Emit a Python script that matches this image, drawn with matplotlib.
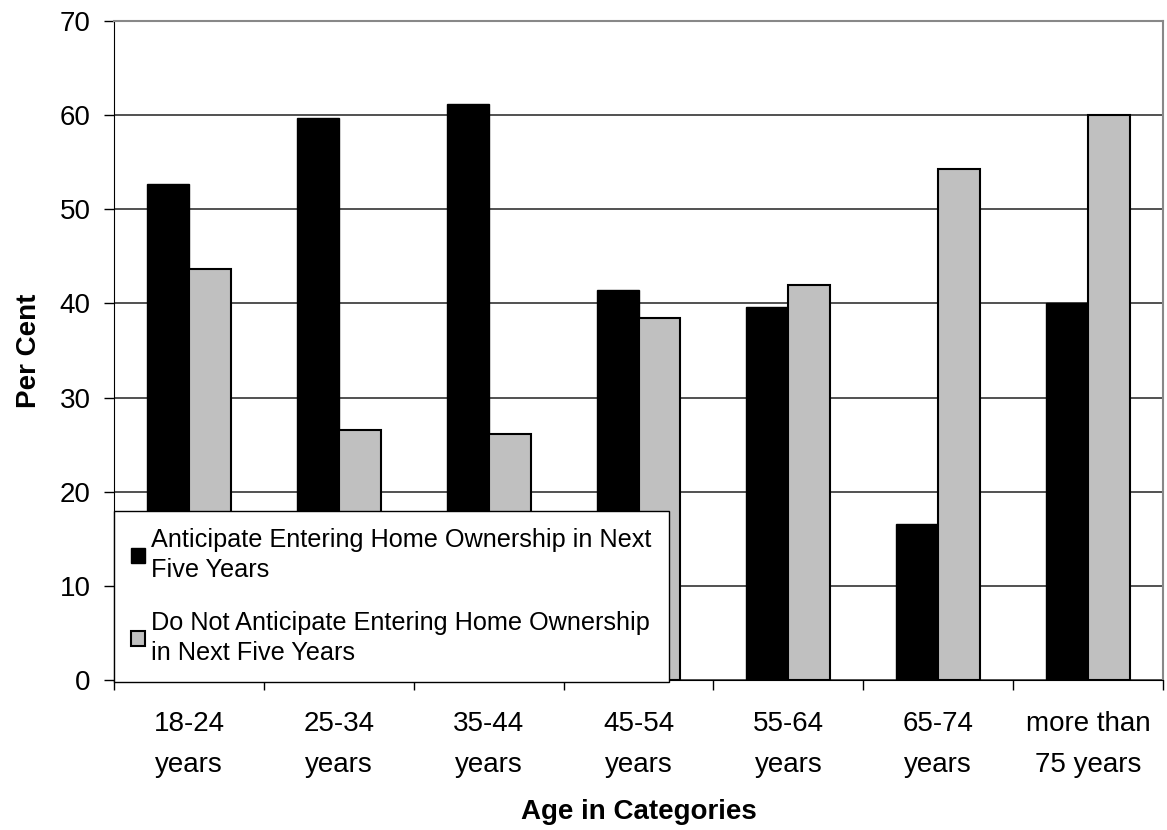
import matplotlib.pyplot as plt
import numpy as np

plt.rcParams['font.family'] = ['Liberation Sans', 'DejaVu Sans']

# categories and values (per cent)
categories = ['18-24\nyears', '25-34\nyears', '35-44\nyears', '45-54\nyears',
              '55-64\nyears', '65-74\nyears', 'more than\n75 years']
anticipate = [52.7, 59.7, 61.2, 41.4, 39.6, 16.6, 40.0]
not_anticipate = [43.7, 26.6, 26.1, 38.5, 42.0, 54.3, 60.0]
series_names = ['Anticipate Entering Home Ownership in Next\nFive Years',
                'Do Not Anticipate Entering Home Ownership\nin Next Five Years']

fig = plt.figure(figsize=(11.67, 8.3), dpi=100)
ax = fig.add_axes([0.0977, 0.1807, 0.8989, 0.794])

x = np.arange(len(categories))
w = 0.28
ax.bar(x - w/2, anticipate, w, color='black', edgecolor='black', linewidth=1,
       label=series_names[0], zorder=3)
ax.bar(x + w/2, not_anticipate, w, color='#c0c0c0', edgecolor='black', linewidth=1.5,
       label=series_names[1], zorder=3)

ax.set_xlim(-0.5, len(categories) - 0.5)
ax.set_ylim(0, 70)
ax.set_yticks(np.arange(0, 71, 10))
ax.yaxis.grid(True, color='#333333', linewidth=1.2, zorder=0)

# category boundary ticks on x
ax.set_xticks(np.arange(-0.5, len(categories), 1.0))
ax.set_xticklabels([])
ax.set_xticks(x, minor=True)
ax.set_xticklabels(categories, minor=True, fontsize=20, linespacing=1.75)
ax.tick_params(axis='x', which='minor', length=0, pad=22)
ax.tick_params(axis='x', which='major', length=7, color='black', width=1)
ax.tick_params(axis='y', length=7, width=1, labelsize=20, pad=10)

for s in ['top', 'right']:
    ax.spines[s].set_color('#888888')
    ax.spines[s].set_linewidth(1.5)
ax.spines['left'].set_color('black')
ax.spines['bottom'].set_color('black')

ax.set_ylabel('Per Cent', fontsize=20, fontweight='bold')
ax.set_xlabel('Age in Categories', fontsize=20, fontweight='bold')
ax.yaxis.set_label_coords(-0.069, 0.5)
ax.xaxis.set_label_coords(0.5, -0.18)

leg = ax.legend(loc='lower left', bbox_to_anchor=(0.0, -0.003), borderaxespad=0,
                fontsize=18.2, frameon=True, fancybox=False, framealpha=1,
                handlelength=0.55, handleheight=0.55, handletextpad=0.25,
                labelspacing=1.15, borderpad=0.68)
for t in leg.get_texts():
    t.set_linespacing(1.3)
leg.get_frame().set_edgecolor('black')
leg.get_frame().set_linewidth(1)
leg.set_zorder(5)

fig.savefig('out.png', dpi=100)
